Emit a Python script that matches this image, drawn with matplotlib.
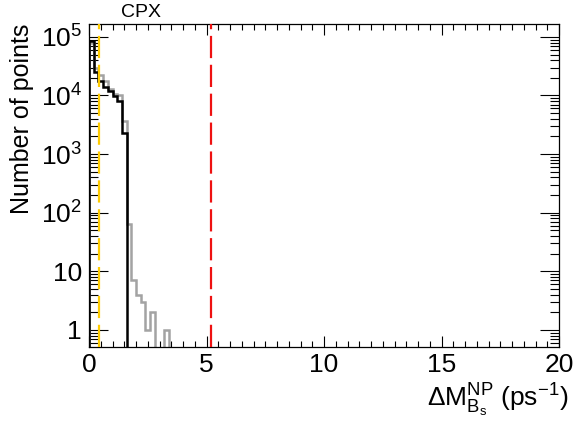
import numpy as np
import matplotlib
matplotlib.use("Agg")
import matplotlib.pyplot as plt
from matplotlib.ticker import FixedLocator, MultipleLocator, FuncFormatter

plt.rcParams['font.family'] = ['Liberation Sans', 'DejaVu Sans']
plt.rcParams['mathtext.fontset'] = 'custom'
plt.rcParams['mathtext.rm'] = 'Liberation Sans'
plt.rcParams['mathtext.it'] = 'Liberation Sans'
plt.rcParams['mathtext.bf'] = 'Liberation Sans:bold'

# ---- data ----
bin_edges = np.round(np.arange(0, 3.4001, 0.2), 2)   # 0.2-wide bins
black_counts = [85000, 25000, 18000, 14000, 11800, 9700, 8000, 2300,
                0, 0, 0, 0, 0, 0, 0, 0, 0]
gray_counts = [80000, 30000, 22000, 17500, 12800, 10400, 10000, 3600,
               63, 7, 4, 3, 1, 2, 0, 0, 1]
yellow_line_x = 0.44
red_line_x = 5.18
title_text = "CPX"
xlim = (0, 20)
ylim = (0.51, 1.66e5)

fig = plt.figure(figsize=(5.76, 4.21), dpi=100)
ax = fig.add_axes([89/576, 1-347/421, 470/576, 323/421])

def safe(v):
    v = np.asarray(v, dtype=float)
    return np.where(v > 0, v, 1e-3)

ax.stairs(safe(gray_counts), bin_edges, baseline=1e-3, color='#a3a3a3', lw=1.8, zorder=2)
ax.stairs(safe(black_counts), bin_edges, baseline=1e-3, color='black', lw=1.8, zorder=3)

ax.axvline(yellow_line_x, color='#ffcc00', lw=1.6, ls=(0, (10, 3)), zorder=4)
ax.axvline(red_line_x, color='#ee1111', lw=1.6, ls=(0, (10, 3)), zorder=4)

ax.set_yscale('log')
ax.set_xlim(*xlim)
ax.set_ylim(*ylim)

ax.xaxis.set_major_locator(MultipleLocator(5))
ax.xaxis.set_minor_locator(MultipleLocator(0.5))
ax.yaxis.set_major_locator(FixedLocator([1, 10, 100, 1e3, 1e4, 1e5]))
minor = [m * 10**d for d in range(-1, 6) for m in range(2, 10)]
ax.yaxis.set_minor_locator(FixedLocator(minor))

def yfmt(v, pos):
    e = int(round(np.log10(v)))
    if e == 0:
        return '1'
    if e == 1:
        return '10'
    return r'$\mathrm{10^{%d}}$' % e
ax.yaxis.set_major_formatter(FuncFormatter(yfmt))
ax.yaxis.set_minor_formatter(FuncFormatter(lambda v, p: ''))

ax.tick_params(axis='both', which='both', direction='in', top=True, right=True, width=0.8, colors='black')
ax.tick_params(axis='x', which='major', length=8, labelsize=19, pad=4)
ax.tick_params(axis='x', which='minor', length=4)
ax.tick_params(axis='y', which='major', length=14, labelsize=19, pad=5)
ax.tick_params(axis='y', which='minor', length=6.5)
for s in ax.spines.values():
    s.set_linewidth(0.9)

ax.set_ylabel('Number of points', fontsize=18, loc='top')
ax.yaxis.set_label_coords(-0.118, 1.0)
ax.set_xlabel(r'$\mathrm{\Delta M_{B_s}^{NP}}$ (ps$^{\mathrm{-1}}$)', fontsize=19, loc='right')
ax.xaxis.set_label_coords(1.019, -0.108)

fig.text(141/576, 1-12.5/421, title_text, fontsize=14, ha='center', va='center')

fig.savefig('out.png', dpi=100)
